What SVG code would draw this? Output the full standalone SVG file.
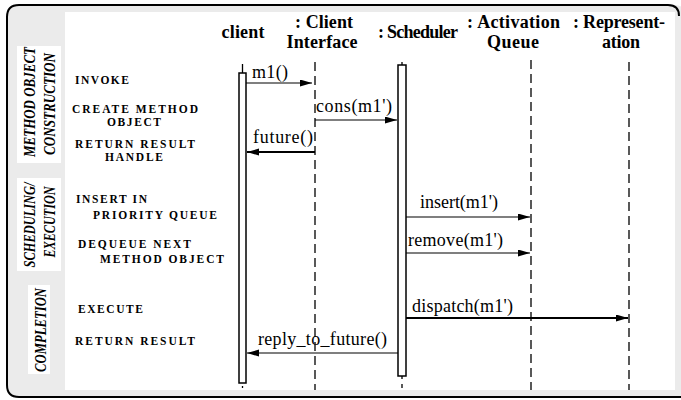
<svg xmlns="http://www.w3.org/2000/svg" width="681" height="400" viewBox="0 0 681 400">
<style>
.hdr{font-family:"Liberation Serif","Times New Roman",serif;font-weight:bold;font-size:18px;fill:#000;text-anchor:middle}
.msg{font-family:"Liberation Serif","Times New Roman",serif;font-size:18px;fill:#000}
.step{font-family:"Liberation Serif","Times New Roman",serif;font-weight:bold;font-size:11.5px;fill:#000}
.sec{font-family:"Liberation Serif","Times New Roman",serif;font-weight:bold;font-style:italic;font-size:17px;fill:#000;text-anchor:middle}
.life{stroke:#000;stroke-width:1.3;stroke-dasharray:9 5;fill:none}
.bar{fill:#fff;stroke:#000;stroke-width:1.5}
.thin{stroke:#000;stroke-width:1.2;fill:none}
.thick{stroke:#000;stroke-width:2;fill:none}
</style>
<defs>
<marker id="ah" markerUnits="userSpaceOnUse" markerWidth="13" markerHeight="8" refX="12" refY="3.5" orient="auto">
<path d="M0,0 L12,3.5 L0,7 z" fill="#000"/>
</marker>
</defs>
<rect x="0" y="0" width="681" height="400" fill="#fff"/>
<rect x="7" y="5" width="680" height="392" rx="12" fill="#ebebeb"/>
<path d="M679,16 Q679,5 668,5 L19,5 Q7,5 7,17 L7,385 Q7,397 19,397 L681,397" fill="none" stroke="#000" stroke-width="2"/>
<rect x="65" y="12" width="610" height="378" fill="#fff"/>

<g id="section-construction">
<rect x="17" y="46" width="44" height="117" fill="#fff"/>
<text class="sec" transform="translate(35,102) rotate(-90)" textLength="110" lengthAdjust="spacingAndGlyphs">METHOD OBJECT</text>
<text class="sec" transform="translate(55,104) rotate(-90)" textLength="102" lengthAdjust="spacingAndGlyphs">CONSTRUCTION</text>
</g>
<g id="section-scheduling">
<rect x="17" y="178" width="44" height="93" fill="#fff"/>
<text class="sec" transform="translate(35,225) rotate(-90)" textLength="85" lengthAdjust="spacingAndGlyphs">SCHEDULING/</text>
<text class="sec" transform="translate(55,222) rotate(-90)" textLength="71" lengthAdjust="spacingAndGlyphs">EXECUTION</text>
</g>
<g id="section-completion">
<rect x="28" y="285" width="22" height="89" fill="#fff"/>
<text class="sec" transform="translate(45.5,330) rotate(-90)" textLength="84" lengthAdjust="spacingAndGlyphs">COMPLETION</text>
</g>

<g id="steps">
<text class="step" x="75" y="84" textLength="54">INVOKE</text>
<text class="step" x="72" y="113" textLength="126">CREATE METHOD</text>
<text class="step" x="107" y="126" textLength="54">OBJECT</text>
<text class="step" x="75" y="148" textLength="120">RETURN RESULT</text>
<text class="step" x="105" y="161" textLength="58">HANDLE</text>
<text class="step" x="76" y="203" textLength="71">INSERT IN</text>
<text class="step" x="93" y="219" textLength="124">PRIORITY QUEUE</text>
<text class="step" x="78" y="248" textLength="113">DEQUEUE NEXT</text>
<text class="step" x="100" y="263" textLength="124">METHOD OBJECT</text>
<text class="step" x="78" y="313" textLength="65">EXECUTE</text>
<text class="step" x="75" y="345" textLength="120">RETURN RESULT</text>
</g>

<g id="obj-client">
<text class="hdr" x="243" y="38" textLength="43">client</text>
<line class="life" x1="242.5" y1="64" x2="242.5" y2="388"/>
<rect class="bar" x="239" y="73" width="7" height="310"/>
</g>
<g id="obj-client-interface">
<text class="hdr" x="324" y="28" textLength="58">: Client</text>
<text class="hdr" x="322" y="48" textLength="71">Interface</text>
<line class="life" x1="315" y1="62" x2="315" y2="390"/>
</g>
<g id="obj-scheduler">
<text class="hdr" x="418" y="38" textLength="80">: Scheduler</text>
<line class="life" x1="402" y1="62" x2="402" y2="388"/>
<rect class="bar" x="398" y="65" width="8" height="311"/>
</g>
<g id="obj-activation-queue">
<text class="hdr" x="513.5" y="28" textLength="93">: Activation</text>
<text class="hdr" x="513" y="48" textLength="52">Queue</text>
<line class="life" x1="531" y1="60" x2="531" y2="390"/>
</g>
<g id="obj-representation">
<text class="hdr" x="619" y="28" textLength="92">: Represent-</text>
<text class="hdr" x="621" y="48" textLength="38">ation</text>
<line class="life" x1="629" y1="62" x2="629" y2="390"/>
</g>

<g id="connectors">
<line class="thin" x1="246" y1="83" x2="312" y2="83" marker-end="url(#ah)"/>
<text class="msg" x="252" y="78" textLength="36">m1()</text>
<line class="thin" x1="315" y1="120" x2="397" y2="120" marker-end="url(#ah)"/>
<text class="msg" x="316" y="112" textLength="76">cons(m1')</text>
<line class="thick" x1="315" y1="152" x2="247" y2="152" marker-end="url(#ah)"/>
<text class="msg" x="253" y="143" textLength="60">future()</text>
<line class="thin" x1="406" y1="217" x2="530" y2="217" marker-end="url(#ah)"/>
<text class="msg" x="420" y="208" textLength="78">insert(m1')</text>
<line class="thin" x1="406" y1="253" x2="530" y2="253" marker-end="url(#ah)"/>
<text class="msg" x="408" y="246" textLength="95">remove(m1')</text>
<line class="thick" x1="406" y1="318" x2="628" y2="318" marker-end="url(#ah)"/>
<text class="msg" x="412" y="312" textLength="101">dispatch(m1')</text>
<line class="thin" x1="398" y1="353" x2="247" y2="353" stroke-width="1.5" marker-end="url(#ah)"/>
<text class="msg" x="258" y="345" textLength="129">reply_to_future()</text>
</g>
</svg>
